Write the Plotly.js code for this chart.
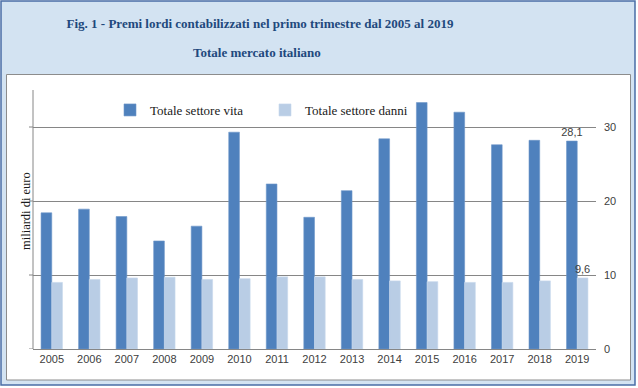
<!DOCTYPE html>
<html>
<head>
<meta charset="utf-8">
<script src="https://cdn.plot.ly/plotly-3.0.1.min.js"></script>
<style>
  html, body { margin: 0; padding: 0; background: #ffffff; }
  #chart { width: 638px; height: 388px; }
</style>
</head>
<body>
<div id="chart"></div>
<script>
// ---- data ----
const years = ['2005','2006','2007','2008','2009','2010','2011','2012','2013','2014','2015','2016','2017','2018','2019'];
const vita  = [18.4, 18.9, 17.9, 14.6, 16.6, 29.3, 22.3, 17.8, 21.4, 28.4, 33.3, 32.0, 27.6, 28.2, 28.1];
const danni = [9.0, 9.4, 9.6, 9.7, 9.4, 9.5, 9.75, 9.75, 9.4, 9.2, 9.1, 9.0, 9.0, 9.2, 9.6];
const seriesNames = ['Totale settore vita', 'Totale settore danni'];
const yTicks = [0, 10, 20, 30];

// label only the last value, Italian decimal comma
function lastLabel(arr) {
  return arr.map((v, i) => i === arr.length - 1 ? v.toFixed(1).replace('.', ',') : '');
}

// ---- geometry helpers (pixel -> paper) ----
const W = 638, H = 388;
const M = { l: 33, r: 42, t: 90, b: 39 };
const PW = W - M.l - M.r, PH = H - M.t - M.b;
const px = x => (x - M.l) / PW;
const py = y => (H - M.b - y) / PH;

const labelFont = { family: 'Liberation Sans, Arial, sans-serif', size: 11, color: '#404040' };
const serifFont = { family: 'Liberation Serif, Times New Roman, serif', size: 13, color: '#1a1a1a' };
const titleFont = { family: 'Liberation Serif, Times New Roman, serif', size: 13, color: '#1f497d', weight: 'bold' };
const axisGray = '#868686';

const traces = [
  {
    type: 'bar', name: seriesNames[0], x: years, y: vita,
    marker: { color: '#4f81bd', line: { color: '#6f97c9', width: 0.6 } },
    text: lastLabel(vita), textposition: 'outside', textfont: labelFont,
    constraintext: 'none', cliponaxis: false, hoverinfo: 'x+y'
  },
  {
    type: 'bar', name: seriesNames[1], x: years, y: danni,
    marker: { color: '#b9cde5', line: { color: '#c8d8ec', width: 0.6 } },
    text: lastLabel(danni), textposition: 'outside', textfont: labelFont,
    constraintext: 'none', cliponaxis: false, hoverinfo: 'x+y'
  }
];

// left axis line + outside tick marks (the value axis labels are on the right)
const leftAxisShapes = [
  {
    type: 'line', xref: 'paper', yref: 'paper', layer: 'above',
    x0: 0, x1: 0, y0: 0, y1: 1,
    line: { color: axisGray, width: 1 }
  }
].concat(yTicks.map(v => ({
  type: 'line', xref: 'paper', yref: 'y', layer: 'above',
  x0: px(29), x1: 0, y0: v, y1: v,
  line: { color: axisGray, width: 1 }
})));

const layout = {
  width: W, height: H,
  margin: M,
  paper_bgcolor: '#ffffff',
  plot_bgcolor: '#ffffff',
  barmode: 'group',
  bargap: 0.43,
  bargroupgap: 0,
  showlegend: true,
  title: {
    text: 'Fig. 1 - Premi lordi contabilizzati nel primo trimestre dal 2005 al 2019',
    font: titleFont,
    xref: 'container', x: 260 / W, xanchor: 'center',
    yref: 'container', y: 1 - 23 / H, yanchor: 'middle'
  },
  annotations: [
    {
      text: 'Totale mercato italiano',
      xref: 'paper', yref: 'paper', x: px(257), y: py(52),
      xanchor: 'center', yanchor: 'middle', showarrow: false,
      font: titleFont
    },
    {
      text: 'miliardi di euro',
      xref: 'paper', yref: 'paper', x: px(26), y: py(211),
      xanchor: 'center', yanchor: 'middle', showarrow: false,
      textangle: -90,
      font: { family: 'Liberation Serif, Times New Roman, serif', size: 12.5, color: '#1a1a1a' }
    }
  ],
  legend: {
    orientation: 'h',
    xref: 'paper', yref: 'paper',
    x: px(110), xanchor: 'left',
    y: py(110), yanchor: 'middle',
    font: serifFont,
    bgcolor: 'rgba(0,0,0,0)',
    traceorder: 'normal',
    entrywidth: 110
  },
  xaxis: {
    type: 'category',
    showline: true, linecolor: axisGray, linewidth: 1,
    ticks: '', showgrid: false,
    tickfont: labelFont,
    fixedrange: true
  },
  yaxis: {
    side: 'right',
    range: [0, 35],
    tickvals: yTicks,
    ticktext: yTicks.map(String),
    showgrid: true, gridcolor: axisGray, gridwidth: 1,
    zeroline: false, showline: false, ticks: '',
    ticklabelstandoff: 7,
    tickfont: labelFont,
    fixedrange: true
  },
  shapes: [
    // outer light-blue frame
    {
      type: 'rect', xref: 'paper', yref: 'paper', layer: 'below',
      x0: px(1), x1: px(635), y0: py(385), y1: py(1),
      fillcolor: '#d3e3f2', line: { color: '#4a6ea6', width: 1.5 }
    },
    // inner white chart box
    {
      type: 'rect', xref: 'paper', yref: 'paper', layer: 'below',
      x0: px(6.5), x1: px(630.5), y0: py(380), y1: py(74.5),
      fillcolor: '#ffffff', line: { color: '#8c8c8c', width: 1 }
    }
  ].concat(leftAxisShapes)
};

Plotly.newPlot('chart', traces, layout, { displayModeBar: false, staticPlot: true });
</script>
</body>
</html>
